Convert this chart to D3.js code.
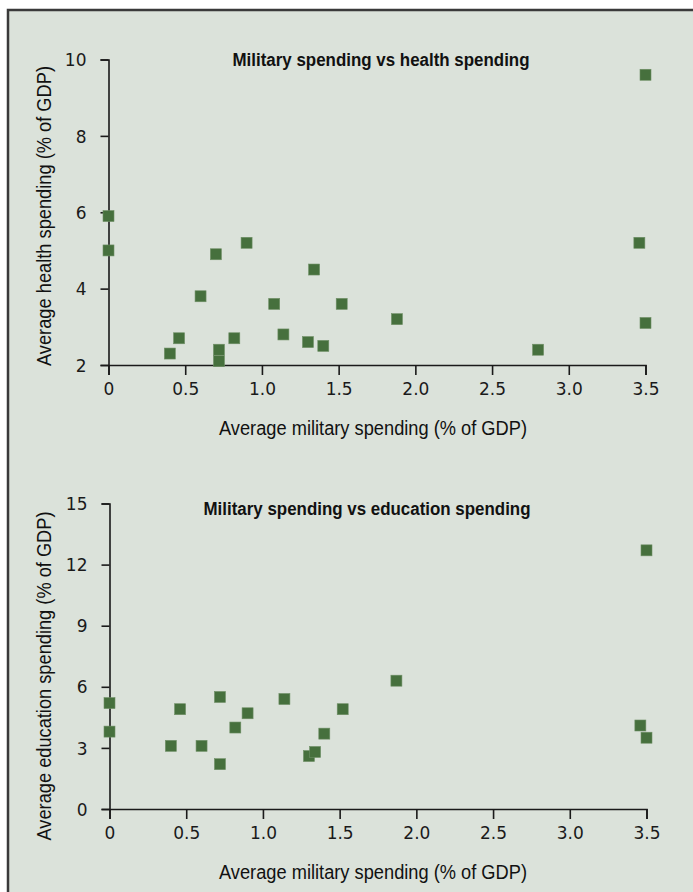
<!DOCTYPE html>
<html><head><meta charset="utf-8">
<script src="https://cdn.jsdelivr.net/npm/d3@7"></script>
<style>
html,body{margin:0;padding:0;background:#fff;}
svg{display:block;}
</style></head>
<body>
<script>
// Data
const healthMilitary = [0, 0, 0.40, 0.46, 0.60, 0.70, 0.72, 0.72, 0.82, 0.90, 1.08, 1.14, 1.30, 1.34, 1.40, 1.52, 1.88, 2.80, 3.46, 3.50, 3.50];
const healthSpending = [5.9, 5.0, 2.3, 2.7, 3.8, 4.9, 2.4, 2.1, 2.7, 5.2, 3.6, 2.8, 2.6, 4.5, 2.5, 3.6, 3.2, 2.4, 5.2, 9.6, 3.1];
const eduMilitary = [0, 0, 0.40, 0.46, 0.60, 0.72, 0.72, 0.82, 0.90, 1.14, 1.30, 1.34, 1.40, 1.52, 1.87, 3.46, 3.50, 3.50];
const eduSpending = [5.2, 3.8, 3.1, 4.9, 3.1, 5.5, 2.2, 4.0, 4.7, 5.4, 2.6, 2.8, 3.7, 4.9, 6.3, 4.1, 12.7, 3.5];
const xTicks = [0, 0.5, 1.0, 1.5, 2.0, 2.5, 3.0, 3.5];
const healthTicks = [2, 4, 6, 8, 10];
const eduTicks = [0, 3, 6, 9, 12, 15];
const titles = ["Military spending vs health spending", "Military spending vs education spending"];
const xLabel = "Average military spending (% of GDP)";
const yLabels = ["Average health spending (% of GDP)", "Average education spending (% of GDP)"];

const W = 693, H = 892;
const svg = d3.select("body").append("svg").attr("width", W).attr("height", H);
svg.append("rect").attr("x", 8).attr("y", 10).attr("width", W - 8).attr("height", H - 10).attr("fill", "#dbe2da");
svg.append("path").attr("d", `M8,${H} V10 H${W}`).attr("fill", "none").attr("stroke", "#3a3a3a").attr("stroke-width", 2.5);

const markerColor = "#46703d";
const tickFont = "'DejaVu Sans', sans-serif";
const labelFont = "'Liberation Sans', Arial, sans-serif";

function panel(cfg) {
  const x = d3.scaleLinear().domain([0, 3.5]).range([cfg.x0, cfg.x1]);
  const y = d3.scaleLinear().domain(cfg.yDomain).range([cfg.y0, cfg.y1]);
  const g = svg.append("g");

  const fmtX = d => d === 0 ? "0" : d3.format(".1f")(d);
  const xa = g.append("g").attr("transform", `translate(0,${cfg.y0})`)
    .call(d3.axisBottom(x).tickValues(xTicks).tickFormat(fmtX).tickSize(10).tickSizeOuter(10));
  const ya = g.append("g").attr("transform", `translate(${cfg.x0},0)`)
    .call(d3.axisLeft(y).tickValues(cfg.yTicks).tickSize(8).tickSizeOuter(8));
  [xa, ya].forEach(a => {
    a.selectAll("path,line").attr("stroke", "#1a1a1a").attr("stroke-width", 1.6);
    a.selectAll("text").attr("fill", "#1a1a1a").style("font-family", tickFont).style("font-size", "17px");
  });
  xa.selectAll("text").attr("y", 30).attr("dy", 0);
  ya.selectAll("text").attr("x", -22).attr("dy", "0.36em");

  g.append("text").attr("x", cfg.titleX).attr("y", cfg.titleY).attr("text-anchor", "middle")
    .style("font-family", labelFont).style("font-weight", "bold")
    .style("font-size", "18px").attr("fill", "#111")
    .attr("textLength", cfg.titleW).attr("lengthAdjust", "spacingAndGlyphs").text(cfg.title);

  g.append("text").attr("x", cfg.xLabelX).attr("y", cfg.xLabelY).attr("text-anchor", "middle")
    .style("font-family", labelFont)
    .style("font-size", "20px").attr("fill", "#111")
    .attr("textLength", 308).attr("lengthAdjust", "spacingAndGlyphs").text(xLabel);

  g.append("text").attr("transform", `translate(${cfg.yLabelX},${cfg.yLabelCY}) rotate(-90)`).attr("text-anchor", "middle")
    .style("font-family", labelFont)
    .style("font-size", "20px").attr("fill", "#111")
    .attr("textLength", cfg.yLabelW).attr("lengthAdjust", "spacingAndGlyphs").text(cfg.yLabel);

  const s = 11;
  g.append("g").selectAll("rect").data(cfg.xs.map((v, i) => [v, cfg.ys[i]])).join("rect")
    .attr("x", d => x(d[0]) - s / 2).attr("y", d => y(d[1]) - s / 2)
    .attr("width", s).attr("height", s)
    .attr("fill", markerColor).attr("stroke", "#6f8f66").attr("stroke-width", 0.6);
}

panel({x0: 108.5, x1: 645.5, y0: 365, y1: 59.5, yDomain: [2, 10], yTicks: healthTicks,
  xs: healthMilitary, ys: healthSpending, title: titles[0], titleX: 381, titleY: 66, titleW: 297,
  xLabelX: 373, xLabelY: 435, yLabelX: 51, yLabelCY: 216, yLabelW: 300, yLabel: yLabels[0]});
panel({x0: 109.5, x1: 646.5, y0: 809, y1: 503.5, yDomain: [0, 15], yTicks: eduTicks,
  xs: eduMilitary, ys: eduSpending, title: titles[1], titleX: 367, titleY: 515, titleW: 327,
  xLabelX: 373, xLabelY: 879, yLabelX: 51, yLabelCY: 676, yLabelW: 329, yLabel: yLabels[1]});
</script>
</body></html>
